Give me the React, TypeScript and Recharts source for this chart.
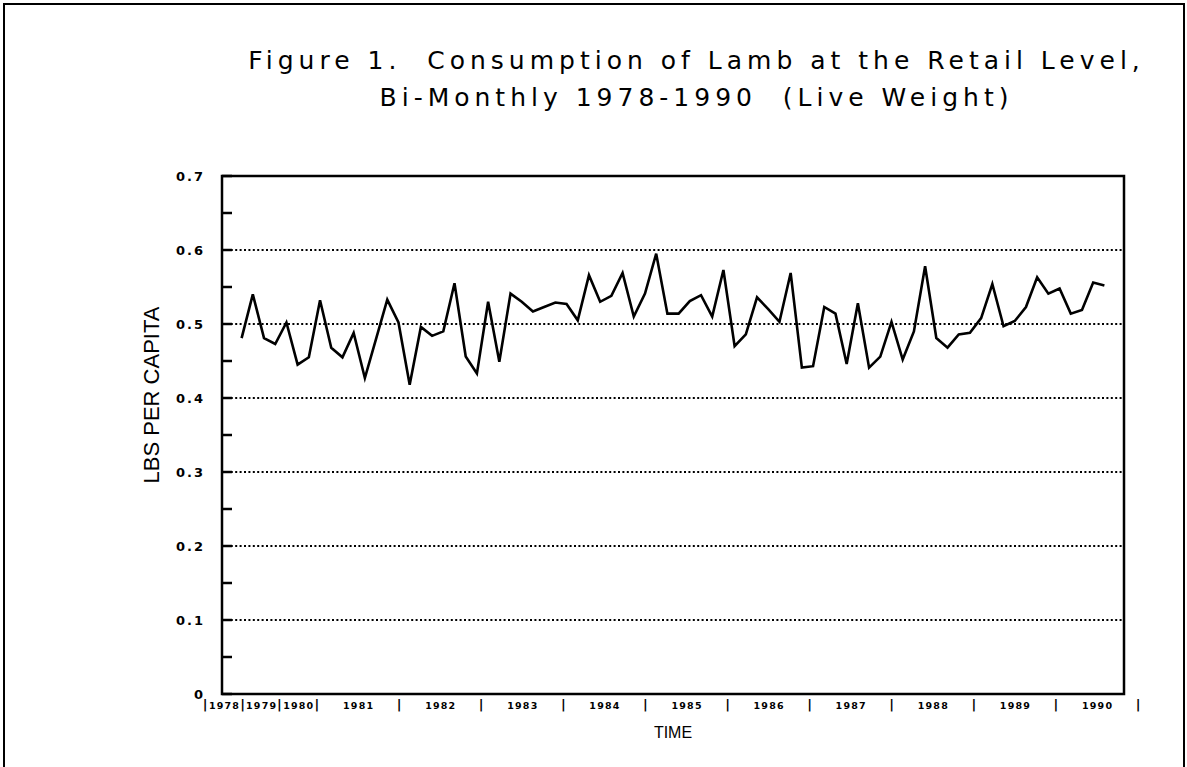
import {Line, LineChart, ReferenceArea, ReferenceLine, XAxis, YAxis} from 'recharts';

const years = ['1978', '1979', '1980', '1981', '1982', '1983', '1984', '1985', '1986', '1987', '1988', '1989', '1990'];

// bi-monthly consumption, lbs per capita (live weight)
const lbsPerCapita = [
  0.481, 0.54, 0.481, 0.473, 0.502, 0.445,
  0.455, 0.532, 0.468, 0.455, 0.488, 0.427,
  0.48, 0.533, 0.502, 0.418, 0.496, 0.484,
  0.49, 0.555, 0.456, 0.433, 0.53, 0.449,
  0.541, 0.53, 0.517, 0.523, 0.529, 0.527,
  0.505, 0.566, 0.53, 0.538, 0.569, 0.51,
  0.541, 0.595, 0.514, 0.514, 0.531, 0.539,
  0.51, 0.573, 0.47, 0.486, 0.536, 0.52,
  0.503, 0.569, 0.441, 0.443, 0.523, 0.514,
  0.446, 0.528, 0.441, 0.456, 0.503, 0.452,
  0.49, 0.578, 0.481, 0.468, 0.486, 0.488,
  0.508, 0.554, 0.497, 0.504, 0.523, 0.563,
  0.541, 0.548, 0.514, 0.519, 0.556, 0.552,
];

const yTicks = [0, 0.05, 0.1, 0.15, 0.2, 0.25, 0.3, 0.35, 0.4, 0.45, 0.5, 0.55, 0.6, 0.65, 0.7];
const yLabels = [0, 0.1, 0.2, 0.3, 0.4, 0.5, 0.6, 0.7];
const gridValues = [0.1, 0.2, 0.3, 0.4, 0.5, 0.6];

// separators of the year label row, in period units
const yearSeparators = [-1.39, 1.82, 4.95, 8.16, 15.17, 22.18, 29.19, 36.2, 43.21, 50.21, 57.22, 64.23, 71.24, 78.25];

const xDomain = [-1.75, 78.75];

const data = lbsPerCapita.map((value, period) => ({period, value}));
const periodTicks = data.map((d) => d.period);
const yearCenters = years.map((_, i) => (yearSeparators[i] + yearSeparators[i + 1]) / 2);

const tickFont = '"DejaVu Sans", sans-serif';

function YTick({x, y, payload}: any) {
  const v = payload.value;
  const major = yLabels.some((l) => Math.abs(l - v) < 1e-6);
  return (
    <g>
      <line x1={x} x2={x + 10} y1={y} y2={y} stroke="#000" strokeWidth={2.5} />
      {major && (
        <text
          x={x - 17}
          y={y}
          textAnchor="end"
          dominantBaseline="central"
          fontFamily={tickFont}
          fontWeight="bold"
          fontSize={13}
          letterSpacing={2}
          fill="#000"
        >
          {v === 0 ? '0' : v.toFixed(1)}
        </text>
      )}
    </g>
  );
}

function PeriodTick({x, y}: any) {
  return <line x1={x} x2={x} y1={y} y2={y - 13} stroke="#000" strokeWidth={2} />;
}

function YearTick({x, y, payload}: any) {
  const idx = yearCenters.findIndex((c) => Math.abs(c - payload.value) < 1e-6);
  const label = idx >= 0 ? years[idx] : '|';
  return (
    <text
      x={x}
      y={y + 15}
      textAnchor="middle"
      fontFamily={tickFont}
      fontWeight="bold"
      fontSize={idx >= 0 ? 9.5 : 13}
      letterSpacing={1.2}
      fill="#000"
    >
      {label}
    </text>
  );
}

export default function App() {
  return (
    <div
      style={{
        position: 'fixed',
        left: 0,
        top: 0,
        width: 1187,
        height: 767,
        background: '#fff',
        overflow: 'hidden',
      }}
    >
      <div
        style={{
          position: 'absolute',
          left: 3,
          top: 3,
          width: 1178,
          height: 780,
          border: '2px solid #000',
        }}
      />
      <div
        style={{
          position: 'absolute',
          left: 0,
          width: 1187,
          top: 42,
          paddingLeft: 206,
          boxSizing: 'border-box',
          textAlign: 'center',
          fontFamily: tickFont,
          fontSize: 25,
          letterSpacing: 5,
          lineHeight: '37px',
          color: '#000',
          whiteSpace: 'pre',
        }}
      >
        <div>{'Figure 1.  Consumption of Lamb at the Retail Level,'}</div>
        <div>{'Bi-Monthly 1978-1990  (Live Weight)'}</div>
      </div>
      <div
        style={{
          position: 'absolute',
          left: 52,
          top: 383,
          width: 200,
          height: 24,
          lineHeight: '24px',
          textAlign: 'center',
          transform: 'rotate(-90deg)',
          fontFamily: '"Liberation Sans", sans-serif',
          fontSize: 22,
          color: '#000',
          whiteSpace: 'nowrap',
        }}
      >
        LBS PER CAPITA
      </div>
      <LineChart
        width={1187}
        height={767}
        data={data}
        margin={{top: 176, right: 63, bottom: 43, left: 0}}
      >
        <XAxis
          dataKey="period"
          type="number"
          domain={xDomain}
          ticks={periodTicks}
          tick={<PeriodTick />}
          tickLine={false}
          tickSize={0}
          tickMargin={0}
          axisLine={false}
          height={0}
          interval={0}
          allowDataOverflow
        />
        <XAxis
          xAxisId="years"
          type="number"
          domain={xDomain}
          ticks={[...yearSeparators, ...yearCenters]}
          tick={<YearTick />}
          tickLine={false}
          tickSize={0}
          tickMargin={0}
          axisLine={false}
          height={30}
          interval={0}
          allowDataOverflow
          label={{
            value: 'TIME',
            position: 'insideBottom',
            offset: -14,
            fontFamily: '"Liberation Sans", sans-serif',
            fontSize: 16,
            fill: '#000',
          }}
        />
        <YAxis
          type="number"
          domain={[0, 0.7]}
          ticks={yTicks}
          width={222}
          tick={<YTick />}
          tickLine={false}
          tickSize={0}
          tickMargin={0}
          axisLine={false}
          interval={0}
        />
        {gridValues.map((g) => (
          <ReferenceLine key={g} y={g} stroke="#000" strokeWidth={2} strokeDasharray="2 2.4" />
        ))}
        <ReferenceArea
          x1={xDomain[0]}
          x2={xDomain[1]}
          y1={0}
          y2={0.7}
          fill="none"
          stroke="#000"
          strokeWidth={2.5}
          ifOverflow="visible"
        />
        <Line
          type="linear"
          dataKey="value"
          stroke="#000"
          strokeWidth={2.6}
          dot={false}
          isAnimationActive={false}
        />
      </LineChart>
    </div>
  );
}
